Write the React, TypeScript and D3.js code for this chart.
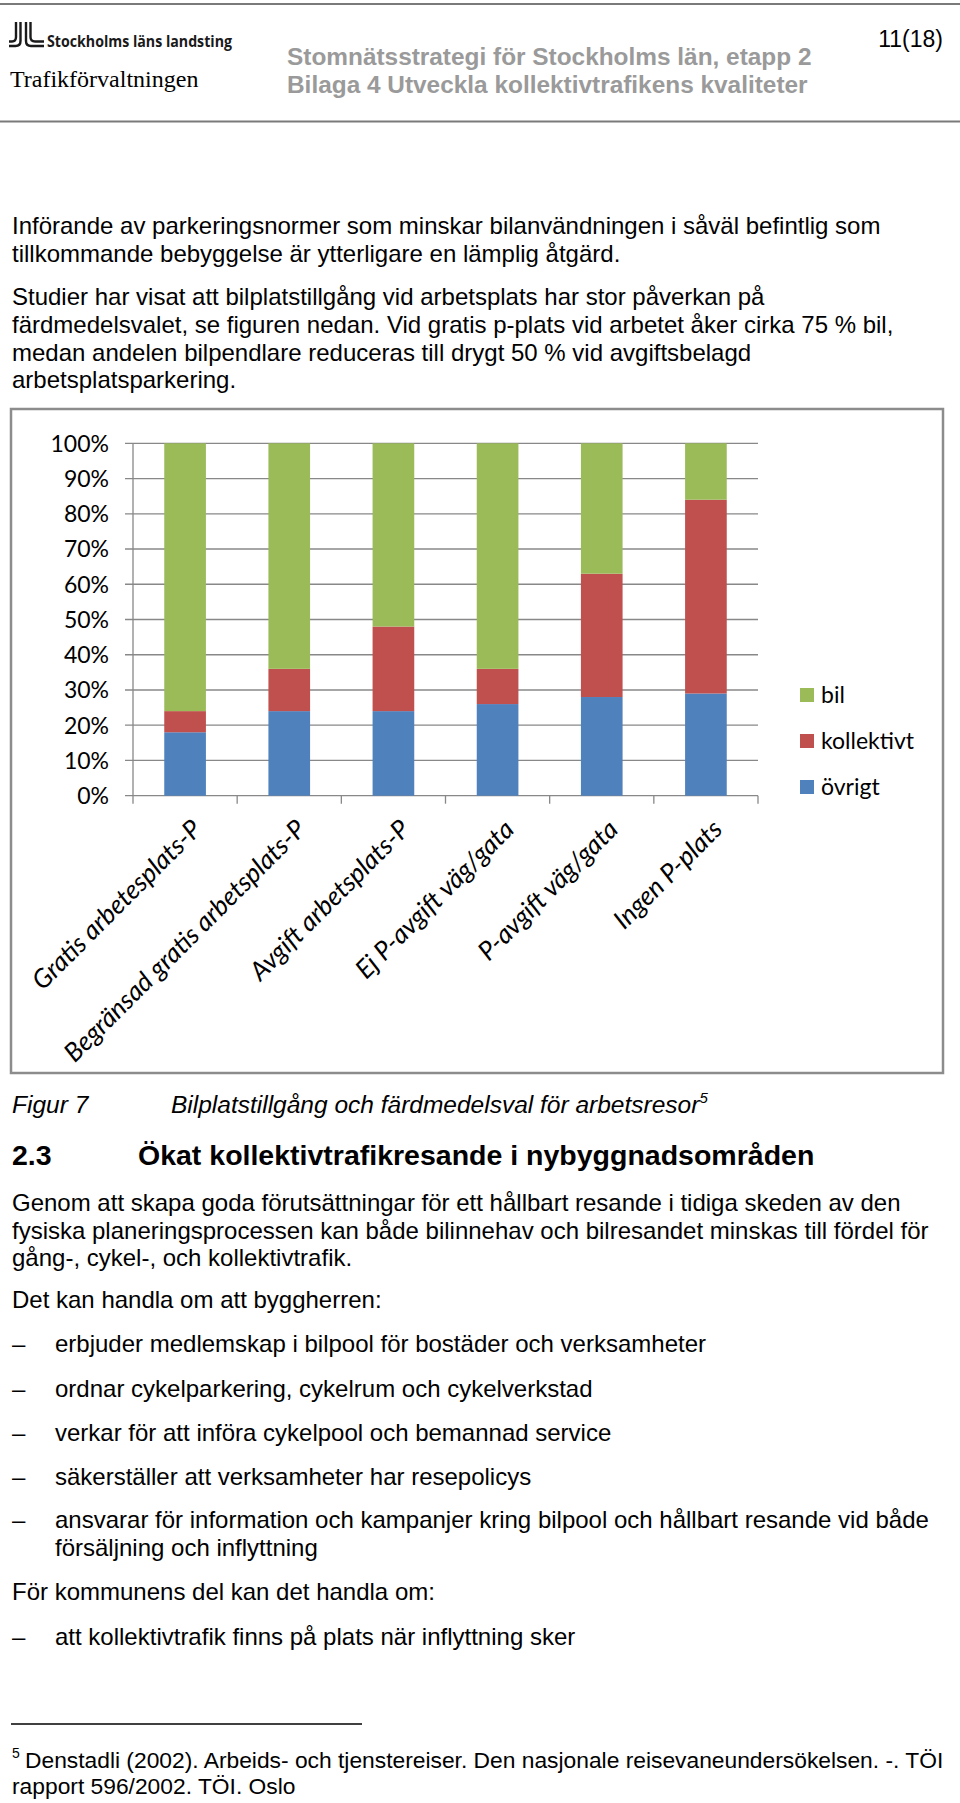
import React from "react";
import * as d3 from "d3";

const categories = [
  "Gratis arbetesplats-P",
  "Begränsad gratis arbetsplats-P",
  "Avgift arbetsplats-P",
  "Ej P-avgift väg/gata",
  "P-avgift väg/gata",
  "Ingen P-plats",
];
const ovrigt = [18, 24, 24, 26, 28, 29];
const kollektivt = [6, 12, 24, 10, 35, 55];
const bil = [76, 64, 52, 64, 37, 16];
const seriesKeys = ["övrigt", "kollektivt", "bil"];
const seriesColors = ["#4F81BD", "#C0504D", "#9BBB59"];
const legendOrder = ["bil", "kollektivt", "övrigt"];
const yTicks = [0, 10, 20, 30, 40, 50, 60, 70, 80, 90, 100];

const para1 = [
  "Införande av parkeringsnormer som minskar bilanvändningen i såväl befintlig som",
  "tillkommande bebyggelse är ytterligare en lämplig åtgärd.",
];
const para2 = [
  "Studier har visat att bilplatstillgång vid arbetsplats har stor påverkan på",
  "färdmedelsvalet, se figuren nedan. Vid gratis p-plats vid arbetet åker cirka 75 % bil,",
  "medan andelen bilpendlare reduceras till drygt 50 % vid avgiftsbelagd",
  "arbetsplatsparkering.",
];
const para3 = [
  "Genom att skapa goda förutsättningar för ett hållbart resande i tidiga skeden av den",
  "fysiska planeringsprocessen kan både bilinnehav och bilresandet minskas till fördel för",
  "gång-, cykel-, och kollektivtrafik.",
];
const bullets1 = [
  ["erbjuder medlemskap i bilpool för bostäder och verksamheter"],
  ["ordnar cykelparkering, cykelrum och cykelverkstad"],
  ["verkar för att införa cykelpool och bemannad service"],
  ["säkerställer att verksamheter har resepolicys"],
  ["ansvarar för information och kampanjer kring bilpool och hållbart resande vid både", "försäljning och inflyttning"],
];

const BODY = "'Liberation Sans', Arial, sans-serif";
const CHARTF = "Lato, 'Open Sans', sans-serif";

export default function App() {
  const W = 960;
  const H = 1803;
  const plotL = 133;
  const plotR = 758;
  const plotT = 443.3;
  const plotB = 795.7;

  const x = d3.scaleBand<string>().domain(categories).range([plotL, plotR]).padding(0);
  const y = d3.scaleLinear().domain([0, 100]).range([plotB, plotT]);
  const barW = x.bandwidth() * 0.4;

  const rows = categories.map((c, i) => ({
    cat: c,
    "övrigt": ovrigt[i],
    kollektivt: kollektivt[i],
    bil: bil[i],
  }));
  const stack = d3.stack<any>().keys(seriesKeys)(rows);

  const bodyStyle = { fontFamily: BODY, fontSize: 24, fill: "#000" } as any;

  return (
    <svg
      width={W}
      height={H}
      viewBox={`0 0 ${W} ${H}`}
      style={{ position: "absolute", left: 0, top: 0, background: "#fff" }}
    >
      <rect x={0} y={0} width={W} height={H} fill="#fff" />
      {/* Header */}
      <line x1={0} x2={W} y1={4} y2={4} stroke="#7a7a7a" strokeWidth={2} />
      <line x1={0} x2={W} y1={121.5} y2={121.5} stroke="#7a7a7a" strokeWidth={2} />
      <g fill="none" stroke="#1a1a1a" strokeWidth={2.4}>
        <path d="M16,22 V37 Q16,41.5 12,41.5 H9" />
        <path d="M20.5,22 V41 Q20.5,46 15.5,46 H9" />
        <path d="M26,22 V41 Q26,46 31,46 H44" />
        <path d="M30.5,22 V37 Q30.5,41.5 35,41.5 H44" />
      </g>
      <text
        x={47}
        y={47}
        fontFamily="'Open Sans', sans-serif"
        fontWeight={700}
        fontSize={16}
        textLength={185}
        lengthAdjust="spacingAndGlyphs"
        fill="#1a1a1a"
      >
        Stockholms läns landsting
      </text>
      <text x={10} y={87} fontFamily="'Liberation Serif', serif" fontSize={24} fill="#000">
        Trafikförvaltningen
      </text>
      <text x={287} y={65} fontFamily={BODY} fontWeight={700} fontSize={24.4} fill="#9a9a9a">
        Stomnätsstrategi för Stockholms län, etapp 2
      </text>
      <text x={287} y={93} fontFamily={BODY} fontWeight={700} fontSize={24.4} fill="#9a9a9a">
        Bilaga 4 Utveckla kollektivtrafikens kvaliteter
      </text>
      <text x={943} y={47} textAnchor="end" fontFamily={BODY} fontSize={23} fill="#000">
        11(18)
      </text>

      {/* Paragraphs */}
      {para1.map((t, i) => (
        <text key={"p1" + i} x={12} y={234 + i * 27.5} style={bodyStyle}>
          {t}
        </text>
      ))}
      {para2.map((t, i) => (
        <text key={"p2" + i} x={12} y={305 + i * 27.8} style={bodyStyle}>
          {t}
        </text>
      ))}

      {/* Chart frame */}
      <rect x={11} y={409} width={932} height={664} fill="#fff" stroke="#8c8c8c" strokeWidth={2.5} />

      {/* Gridlines & y ticks */}
      {yTicks.map((t) => (
        <g key={"g" + t}>
          <line x1={125} x2={plotR} y1={y(t)} y2={y(t)} stroke="#888" strokeWidth={1.3} />
          <text
            x={109}
            y={y(t)}
            dy="0.36em"
            textAnchor="end"
            fontFamily={CHARTF}
            fontSize={23}
            fill="#000"
          >
            {t}%
          </text>
        </g>
      ))}
      <line x1={plotL} x2={plotL} y1={plotT} y2={plotB} stroke="#888" strokeWidth={1.3} />
      {/* x tick marks */}
      {[...categories.map((c) => x(c) as number), plotR].map((v, i) => (
        <line key={"xt" + i} x1={v} x2={v} y1={plotB} y2={plotB + 8} stroke="#888" strokeWidth={1.3} />
      ))}

      {/* Bars */}
      {stack.map((s, si) => (
        <g key={"s" + si} fill={seriesColors[si]}>
          {s.map((d, i) => (
            <rect
              key={i}
              x={(x(categories[i]) as number) + x.bandwidth() / 2 - barW / 2}
              y={y(d[1])}
              width={barW}
              height={y(d[0]) - y(d[1])}
            />
          ))}
        </g>
      ))}

      {/* Category labels */}
      {categories.map((c) => {
        const cx = (x(c) as number) + x.bandwidth() / 2;
        return (
          <text
            key={"cl" + c}
            transform={`translate(${cx + 18},${831}) rotate(-45)`}
            textAnchor="end"
            fontFamily={CHARTF}
            fontStyle="italic"
            fontSize={26}
            fill="#000"
          >
            {c}
          </text>
        );
      })}

      {/* Legend */}
      {legendOrder.map((k, i) => {
        const si = seriesKeys.indexOf(k);
        const cy = 695 + i * 46;
        return (
          <g key={"lg" + k}>
            <rect x={800} y={cy - 7} width={14} height={14} fill={seriesColors[si]} />
            <text x={821} y={cy} dy="0.36em" fontFamily={CHARTF} fontSize={23} fill="#000">
              {k}
            </text>
          </g>
        );
      })}

      {/* Caption */}
      <text x={12} y={1113} fontFamily={BODY} fontStyle="italic" fontSize={24.5}>
        Figur 7
      </text>
      <text x={171} y={1113} fontFamily={BODY} fontStyle="italic" fontSize={24.5}>
        Bilplatstillgång och färdmedelsval för arbetsresor
        <tspan fontSize={15} dy={-10}>5</tspan>
      </text>

      {/* Heading */}
      <text x={12} y={1165} fontFamily={BODY} fontWeight={700} fontSize={28.5}>
        2.3
      </text>
      <text x={138} y={1165} fontFamily={BODY} fontWeight={700} fontSize={28.5}>
        Ökat kollektivtrafikresande i nybyggnadsområden
      </text>

      {para3.map((t, i) => (
        <text key={"p3" + i} x={12} y={1211 + i * 27.5} style={bodyStyle}>
          {t}
        </text>
      ))}
      <text x={12} y={1308} style={bodyStyle}>
        Det kan handla om att byggherren:
      </text>
      {bullets1.map((lines, i) => {
        const by = [1352, 1397, 1441, 1485, 1528][i];
        return (
          <g key={"b" + i}>
            <text x={12} y={by} style={bodyStyle}>–</text>
            {lines.map((l, j) => (
              <text key={j} x={55} y={by + j * 28} style={bodyStyle}>
                {l}
              </text>
            ))}
          </g>
        );
      })}
      <text x={12} y={1600} style={bodyStyle}>
        För kommunens del kan det handla om:
      </text>
      <text x={12} y={1645} style={bodyStyle}>–</text>
      <text x={55} y={1645} style={bodyStyle}>
        att kollektivtrafik finns på plats när inflyttning sker
      </text>

      {/* Footnote */}
      <line x1={11} x2={362} y1={1724} y2={1724} stroke="#000" strokeWidth={1.5} />
      <text x={12} y={1758} fontFamily={BODY} fontSize={14}>5</text>
      <text x={25} y={1768} fontFamily={BODY} fontSize={22.8}>
        Denstadli (2002). Arbeids- och tjenstereiser. Den nasjonale reisevaneundersökelsen. -. TÖI
      </text>
      <text x={12} y={1794} fontFamily={BODY} fontSize={22.8}>
        rapport 596/2002. TÖI. Oslo
      </text>
    </svg>
  );
}
